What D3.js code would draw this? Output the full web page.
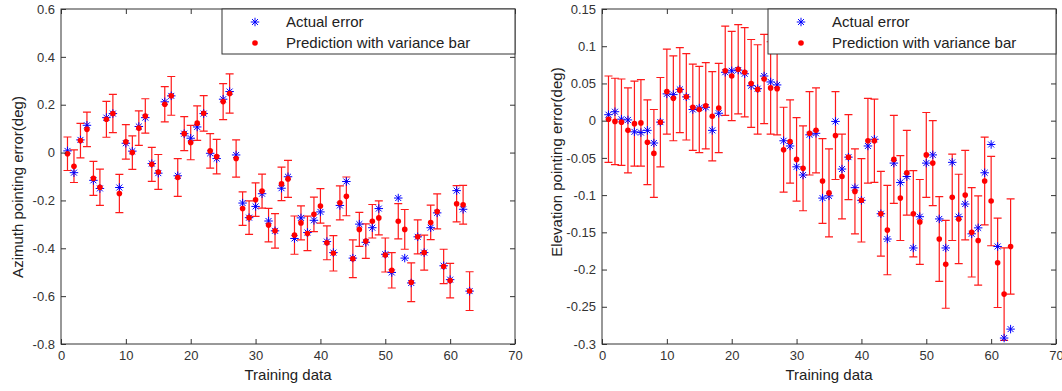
<!DOCTYPE html>
<html>
<head>
<meta charset="utf-8">
<script src="https://cdn.jsdelivr.net/npm/d3@7"></script>
<style>
  body { margin: 0; background: #fff; }
  svg { display: block; font-family: "Liberation Sans", Arial, sans-serif; }
  .tick text { fill: #333; font-size: 13px; }
  .tick line { stroke: #333; }
</style>
</head>
<body>
<svg id="chart" width="1062" height="391"></svg>
<script>
// x ticks shared by both panels
const xTicks = [0, 10, 20, 30, 40, 50, 60, 70];
const azTicks = [-0.8, -0.6, -0.4, -0.2, 0, 0.2, 0.4, 0.6];
const elTicks = [-0.3, -0.25, -0.2, -0.15, -0.1, -0.05, 0, 0.05, 0.1, 0.15];
const legendLabels = ["Actual error", "Prediction with variance bar"];

// azimuth panel (training sample 1..63)
const azActual = [0.007, -0.084, 0.053, 0.114, -0.116, -0.150, 0.146, 0.163, -0.146, 0.039,
  0.006, 0.109, 0.146, -0.046, -0.086, 0.212, 0.237, -0.097, 0.079, 0.060,
  0.107, 0.163, -0.003, -0.025, 0.223, 0.255, -0.010, -0.211, -0.272, -0.225,
  -0.172, -0.286, -0.327, -0.149, -0.101, -0.359, -0.273, -0.334, -0.283, -0.248,
  -0.372, -0.418, -0.221, -0.121, -0.441, -0.299, -0.375, -0.314, -0.234, -0.425,
  -0.501, -0.190, -0.441, -0.545, -0.352, -0.418, -0.314, -0.252, -0.473, -0.531,
  -0.159, -0.237, -0.579];
const azPred = [-0.005, -0.057, 0.050, 0.097, -0.108, -0.145, 0.139, 0.163, -0.171, 0.045,
  0.000, 0.102, 0.153, -0.049, -0.081, 0.202, 0.237, -0.104, 0.079, 0.042,
  0.123, 0.164, 0.007, -0.017, 0.213, 0.247, -0.025, -0.234, -0.272, -0.197,
  -0.161, -0.303, -0.327, -0.131, -0.110, -0.345, -0.294, -0.338, -0.258, -0.223,
  -0.377, -0.421, -0.210, -0.183, -0.444, -0.321, -0.370, -0.287, -0.273, -0.428,
  -0.492, -0.287, -0.321, -0.542, -0.352, -0.418, -0.292, -0.246, -0.476, -0.535,
  -0.214, -0.218, -0.579];
const azVar = [0.070, 0.068, 0.072, 0.072, 0.071, 0.076, 0.075, 0.080, 0.080, 0.072,
  0.070, 0.072, 0.072, 0.071, 0.073, 0.074, 0.081, 0.079, 0.071, 0.072,
  0.072, 0.074, 0.072, 0.072, 0.075, 0.082, 0.078, 0.070, 0.070, 0.070,
  0.071, 0.070, 0.072, 0.070, 0.077, 0.080, 0.071, 0.072, 0.072, 0.072,
  0.071, 0.074, 0.071, 0.081, 0.079, 0.071, 0.072, 0.070, 0.071, 0.071,
  0.074, 0.074, 0.083, 0.081, 0.071, 0.073, 0.072, 0.073, 0.072, 0.072,
  0.076, 0.081, 0.081];

// elevation panel
const elActual = [0.008, 0.012, 0.002, 0.001, -0.015, -0.016, -0.013, -0.030, -0.002, 0.036,
  0.035, 0.042, 0.032, 0.015, 0.017, 0.018, -0.013, 0.010, 0.065, 0.067,
  0.068, 0.063, 0.047, 0.043, 0.060, 0.052, 0.048, -0.027, -0.034, -0.062,
  -0.073, -0.019, -0.017, -0.104, -0.101, -0.001, -0.065, -0.049, -0.090, -0.107,
  -0.034, -0.025, -0.125, -0.159, -0.057, -0.083, -0.075, -0.171, -0.129, -0.057,
  -0.046, -0.132, -0.171, -0.056, -0.129, -0.112, -0.152, -0.144, -0.070, -0.032,
  -0.169, -0.292, -0.280];
const elPred = [0.002, -0.001, -0.002, -0.013, -0.004, -0.003, -0.029, -0.044, -0.002, 0.039,
  0.030, 0.041, 0.032, 0.018, 0.015, 0.020, 0.006, 0.017, 0.067, 0.060,
  0.069, 0.065, 0.050, 0.042, 0.056, 0.044, 0.043, -0.039, -0.028, -0.052,
  -0.064, -0.017, -0.013, -0.081, -0.097, -0.020, -0.075, -0.049, -0.095, -0.107,
  -0.027, -0.027, -0.125, -0.147, -0.052, -0.104, -0.070, -0.125, -0.136, -0.046,
  -0.057, -0.159, -0.193, -0.103, -0.132, -0.100, -0.150, -0.161, -0.081, -0.108,
  -0.191, -0.233, -0.169];
const elVar = [0.058, 0.058, 0.058, 0.057, 0.057, 0.058, 0.057, 0.059, 0.060, 0.057,
  0.057, 0.057, 0.058, 0.058, 0.058, 0.058, 0.060, 0.060, 0.060, 0.060,
  0.060, 0.060, 0.059, 0.060, 0.060, 0.062, 0.062, 0.057, 0.056, 0.056,
  0.057, 0.056, 0.057, 0.057, 0.059, 0.059, 0.057, 0.057, 0.057, 0.056,
  0.057, 0.056, 0.057, 0.060, 0.059, 0.057, 0.057, 0.058, 0.057, 0.057,
  0.057, 0.057, 0.059, 0.058, 0.060, 0.060, 0.060, 0.060, 0.059, 0.060,
  0.060, 0.062, 0.064];

// MATLAB-like '*' marker: + and x overlaid
const starSymbol = {
  draw(ctx, size) {
    const r = Math.sqrt(size) / 2, d = r * 0.7;
    ctx.moveTo(-r, 0); ctx.lineTo(r, 0);
    ctx.moveTo(0, -r); ctx.lineTo(0, r);
    ctx.moveTo(-d, -d); ctx.lineTo(d, d);
    ctx.moveTo(-d, d); ctx.lineTo(d, -d);
  }
};

const fmt = d => String(Math.round(d * 100) / 100);
const svg = d3.select("#chart");

function drawPanel(p) {
  const g = svg.append("g");
  const x = d3.scaleLinear().domain([0, 70]).range([p.left, p.right]);
  const y = d3.scaleLinear().domain(p.yDomain).range([p.bottom, p.top]);

  g.append("rect")
    .attr("x", p.left).attr("y", p.top)
    .attr("width", p.right - p.left).attr("height", p.bottom - p.top)
    .attr("fill", "#fff");

  // error bars
  const rows = p.pred.map((v, i) => ({ k: i + 1, a: p.actual[i], p: v, e: p.err[i] }));
  const bars = g.append("g").attr("stroke", "#ff1a1a").attr("stroke-width", 1.2).attr("fill", "none");
  bars.selectAll("path").data(rows).join("path")
    .attr("d", d => {
      const cx = x(d.k), y1 = y(d.p + d.e), y2 = y(d.p - d.e), c = 4;
      return `M${cx},${y1}V${y2}M${cx - c},${y1}H${cx + c}M${cx - c},${y2}H${cx + c}`;
    });

  // actual error
  g.append("g").selectAll("path").data(rows).join("path")
    .attr("transform", d => `translate(${x(d.k)},${y(d.a)})`)
    .attr("d", d3.symbol(starSymbol, 72))
    .attr("stroke", "#0000ff").attr("stroke-width", 1).attr("fill", "none");

  // prediction dots
  g.append("g").selectAll("circle").data(rows).join("circle")
    .attr("cx", d => x(d.k)).attr("cy", d => y(d.p)).attr("r", 2.8)
    .attr("fill", "#ff0000");

  // axes, ticks pointing inward
  g.append("g").attr("transform", `translate(0,${p.bottom})`)
    .call(d3.axisBottom(x).tickValues(xTicks).tickSize(-5).tickSizeOuter(0).tickPadding(7));
  g.append("g").attr("transform", `translate(0,${p.top})`)
    .call(d3.axisTop(x).tickValues(xTicks).tickSize(-5).tickSizeOuter(0).tickFormat(""));
  g.append("g").attr("transform", `translate(${p.left},0)`)
    .call(d3.axisLeft(y).tickValues(p.yTicks).tickSize(-5).tickSizeOuter(0).tickPadding(6).tickFormat(fmt));
  g.append("g").attr("transform", `translate(${p.right},0)`)
    .call(d3.axisRight(y).tickValues(p.yTicks).tickSize(-5).tickSizeOuter(0).tickFormat(""));
  g.selectAll(".domain").remove();

  g.append("rect")
    .attr("x", p.left).attr("y", p.top)
    .attr("width", p.right - p.left).attr("height", p.bottom - p.top)
    .attr("fill", "none").attr("stroke", "#333").attr("stroke-width", 1);

  // legend
  const lg = g.append("g");
  lg.append("rect")
    .attr("x", p.legendX).attr("y", p.top)
    .attr("width", p.right - p.legendX).attr("height", 45)
    .attr("fill", "#fff").attr("stroke", "#333").attr("stroke-width", 1);
  lg.append("path")
    .attr("transform", `translate(${p.legendX + 33},${p.top + 13})`)
    .attr("d", d3.symbol(starSymbol, 72))
    .attr("stroke", "#0000ff").attr("stroke-width", 1).attr("fill", "none");
  lg.append("circle")
    .attr("cx", p.legendX + 33).attr("cy", p.top + 34).attr("r", 2.8).attr("fill", "#ff0000");
  lg.selectAll("text").data(legendLabels).join("text")
    .attr("x", p.legendX + 64).attr("y", (d, i) => p.top + 13 + i * 21)
    .attr("dy", "0.35em").attr("font-size", 15).attr("fill", "#222")
    .text(d => d);

  // axis titles
  g.append("text")
    .attr("x", (p.left + p.right) / 2).attr("y", 375).attr("dy", "0.35em")
    .attr("text-anchor", "middle").attr("font-size", 15).attr("fill", "#222")
    .text("Training data");
  g.append("text")
    .attr("transform", `translate(${p.yLabelX},${p.yLabelY}) rotate(-90)`)
    .attr("dy", "0.35em")
    .attr("text-anchor", "middle").attr("font-size", 15).attr("fill", "#222")
    .text(p.yLabel);
}

drawPanel({
  left: 61, right: 515, top: 9, bottom: 344,
  yDomain: [-0.8, 0.6], yTicks: azTicks,
  actual: azActual, pred: azPred, err: azVar,
  legendX: 222, yLabel: "Azimuth pointing error(deg)", yLabelX: 18, yLabelY: 187
});
drawPanel({
  left: 602, right: 1056, top: 9, bottom: 344,
  yDomain: [-0.3, 0.15], yTicks: elTicks,
  actual: elActual, pred: elPred, err: elVar,
  legendX: 768, yLabel: "Elevation pointing error(deg)", yLabelX: 557, yLabelY: 162
});
</script>
</body>
</html>
